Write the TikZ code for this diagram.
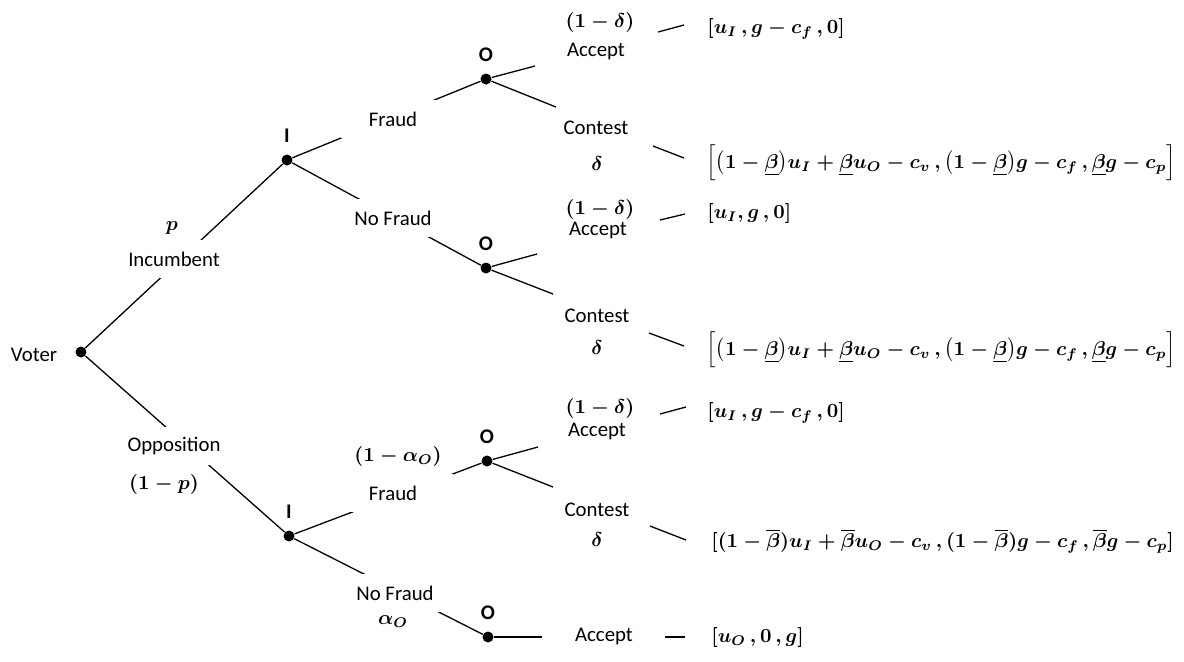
\documentclass[tikz,border=0pt]{standalone}
\usepackage{amsmath,amssymb}
\usepackage[no-math]{fontspec}
\setmainfont{Carlito}
\usepackage{tikz}
\usetikzlibrary{positioning}

\newcommand{\mth}[1]{{\fontsize{10}{12}\selectfont\boldmath$#1$}}

\begin{document}
\begin{tikzpicture}[x=0.5pt, y=-0.5pt,
    dec/.style={circle, fill=black, inner sep=0pt, minimum size=5.5pt},
    who/.style={font=\fontsize{10.4}{12}\selectfont\bfseries, inner sep=0pt},
    lbl/.style={font=\fontsize{10.4}{12}\selectfont, inner sep=1pt},
    cutlbl/.style={lbl, fill=white, minimum height=19pt},
    prob/.style={inner sep=0pt},
    pay/.style={anchor=west, inner sep=0pt},
    branch/.style={line width=0.65pt},
    tick/.style={line width=0.65pt}
]
\useasboundingbox (0,0) rectangle (1184,661);

% decision points
\node[dec] (voter) at (81,352) {};
\node[dec] (iup) at (287,160) {};
\node[dec] (ilow) at (289,536) {};
\node[dec] (o1) at (486,79) {};
\node[dec] (o2) at (486,268) {};
\node[dec] (o3) at (487,461) {};
\node[dec] (o4) at (488,637) {};

\node[lbl] at (34,355) {Voter};
\node[who, above=5.5pt of iup] {I};
\node[who, above=5.5pt of ilow] {I};
\node[who, above=5.5pt of o1] {O};
\node[who, above=5.5pt of o2] {O};
\node[who, above=5.5pt of o3] {O};
\node[who, above=5.5pt of o4] {O};

% loose ends of the last moves
\coordinate (a1) at (535,66);
\coordinate (c1) at (556,107);
\coordinate (a2) at (537,254);
\coordinate (c2) at (553,294);
\coordinate (a3) at (538,447);
\coordinate (c3) at (553,487);
\coordinate (a4) at (542,637);

\draw[branch] (voter) -- (iup);
\draw[branch] (voter) -- (ilow);
\draw[branch] (iup) -- (o1);
\draw[branch] (iup) -- (o2);
\draw[branch] (ilow) -- (o3);
\draw[branch] (ilow) -- (o4);
\draw[branch] (o1) -- (a1);
\draw[branch] (o1) -- (c1);
\draw[branch] (o2) -- (a2);
\draw[branch] (o2) -- (c2);
\draw[branch] (o3) -- (a3);
\draw[branch] (o3) -- (c3);
\draw[branch] (o4) -- (a4);

% move labels breaking the branches
\node[cutlbl] (inc) at (174,259) {Incumbent};
\node[cutlbl] (opp) at (174,446) {Opposition};
\node[cutlbl, minimum width=52pt] (fr1) at (393,119) {Fraud};
\node[cutlbl, minimum width=45pt] (nf1) at (393,218) {No Fraud};
\node[cutlbl, minimum width=60pt] (fr2) at (393,493) {Fraud};
\node[cutlbl, minimum width=45pt] (nf2) at (395,593) {No Fraud};

\node[prob] at (172,228) {\mth{p}};
\node[prob] at (164,484) {\mth{(1-p)}};
\node[prob] at (398,456) {\mth{(1-\alpha_O)}};
\node[prob] at (393,622) {\mth{\alpha_O}};

% outcome labels
\node[prob] at (600,22) {\mth{(1-\delta)}};
\node[lbl] (acc1) at (596,51) {Accept};
\node[lbl] (con1) at (596,128) {Contest};
\node[prob] at (597,164) {\mth{\delta}};
\node[prob] at (600,209) {\mth{(1-\delta)}};
\node[lbl] (acc2) at (598,230) {Accept};
\node[lbl] (con2) at (597,316) {Contest};
\node[prob] at (597,348) {\mth{\delta}};
\node[prob] at (600,408) {\mth{(1-\delta)}};
\node[lbl] (acc3) at (597,431) {Accept};
\node[lbl] (con3) at (597,510) {Contest};
\node[prob] at (597,540) {\mth{\delta}};
\node[lbl] (acc4) at (604,636) {Accept};

% payoffs
\node[pay] (pay1) at (707,29) {\mth{[u_I\,,g-c_f\,,\mathbf{0}]}};
\node[pay] (pay2) at (706,163) {\mth{\Big[\big(1-\underline{\beta}\big)u_I+\underline{\beta}u_O-c_v\,,\big(1-\underline{\beta}\big)g-c_f\,,\underline{\beta}g-c_p\Big]}};
\node[pay] (pay3) at (707,213) {\mth{[u_I,g\,,\mathbf{0}]}};
\node[pay] (pay4) at (706,350) {\mth{\Big[\big(1-\underline{\beta}\big)u_I+\underline{\beta}u_O-c_v\,,\big(1-\underline{\beta}\big)g-c_f\,,\underline{\beta}g-c_p\Big]}};
\node[pay] (pay5) at (707,413) {\mth{[u_I\,,g-c_f\,,\mathbf{0}]}};
\node[pay] (pay6) at (711,541) {\mth{[(1-\overline{\beta})u_I+\overline{\beta}u_O-c_v\,,(1-\overline{\beta})g-c_f\,,\overline{\beta}g-c_p]}};
\node[pay] (pay7) at (711,637) {\mth{[u_O\,,\mathbf{0}\,,g]}};

\draw[tick] ([shift={(-49,3)}]pay1.west) -- ++(26,-7);
\draw[tick] ([shift={(-53,-17)}]pay2.west) -- ++(31,12);
\draw[tick] ([shift={(-47,7)}]pay3.west) -- ++(25,-6);
\draw[tick] ([shift={(-57,-17)}]pay4.west) -- ++(35,13);
\draw[tick] ([shift={(-47,1)}]pay5.west) -- ++(26,-7);
\draw[tick] ([shift={(-61,-15)}]pay6.west) -- ++(36,14);
\draw[tick] ([shift={(-46,0)}]pay7.west) -- ++(20,0);

\end{tikzpicture}
\end{document}
